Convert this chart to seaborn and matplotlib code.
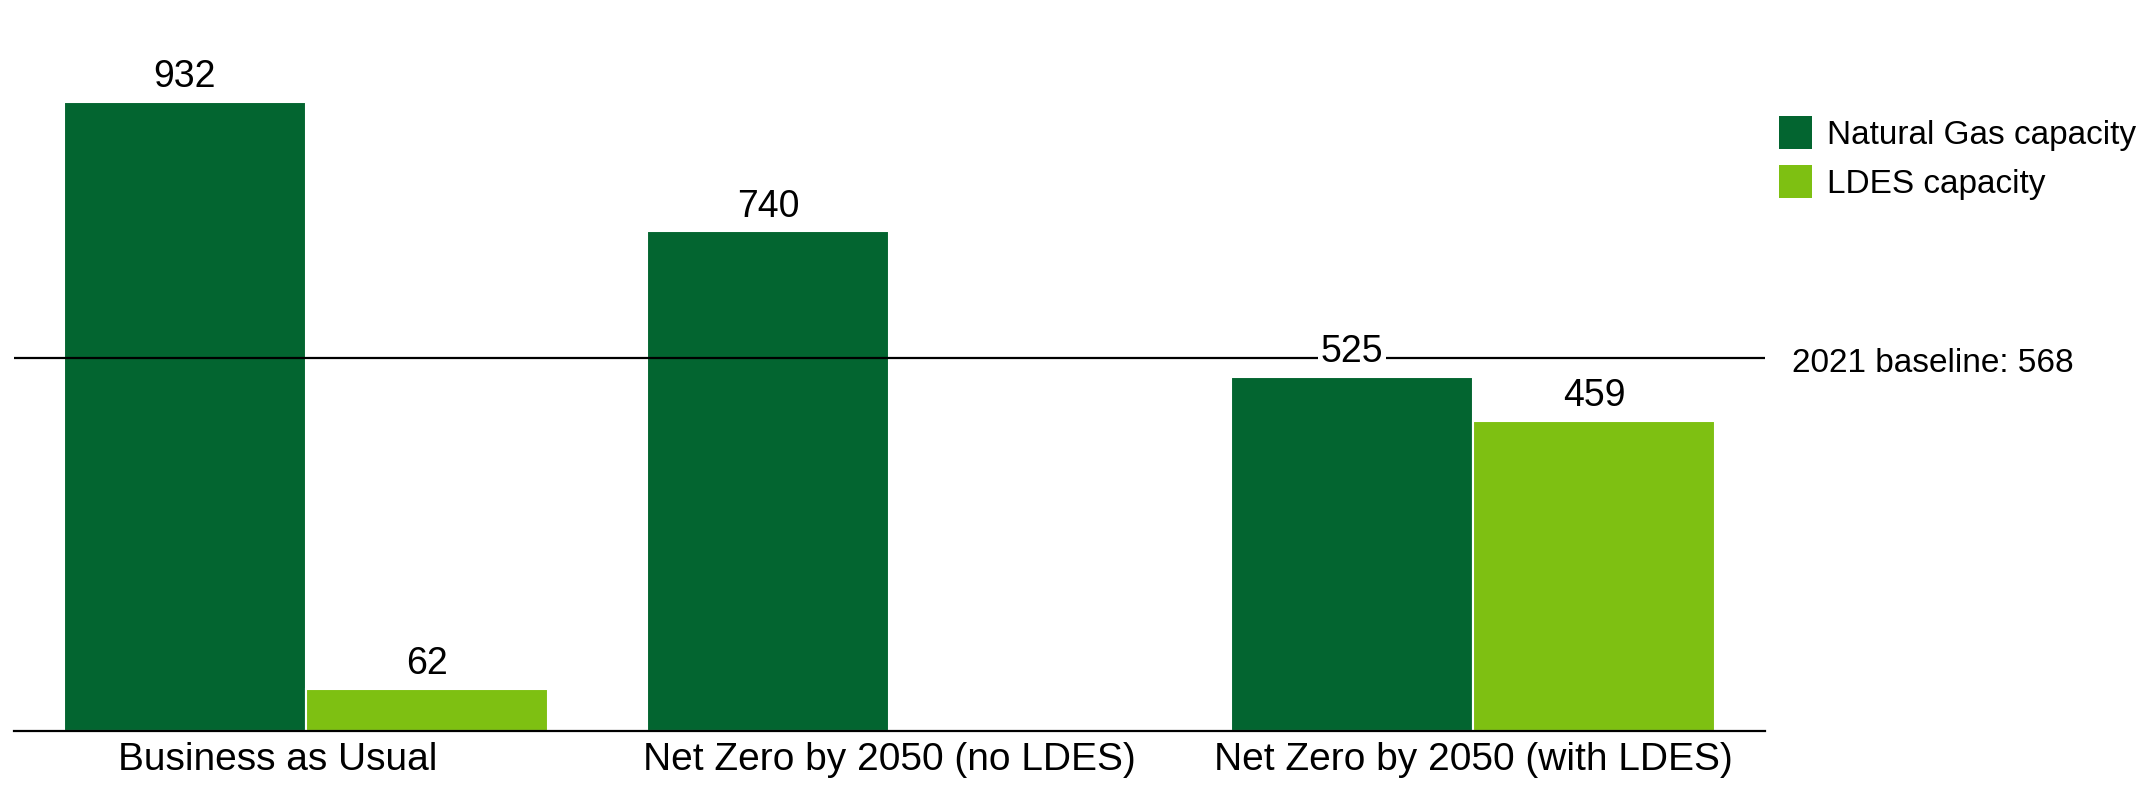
import matplotlib
matplotlib.use("Agg")
import matplotlib.pyplot as plt
import matplotlib.patches as mpatches
import matplotlib.transforms as mtransforms
import pandas as pd
import seaborn as sns

# chart data
scenarios = ["Business as Usual", "Net Zero by 2050 (no LDES)", "Net Zero by 2050 (with LDES)"]
series = ["Natural Gas capacity", "LDES capacity"]
gas_capacity = [932, 740, 525]
ldes_capacity = [62, None, 459]
baseline_label = "2021 baseline: 568"
# the reference line sits a little under 568 on the value scale
baseline_line_level = 552

COLORS = {"Natural Gas capacity": "#036530", "LDES capacity": "#7EC012"}

sns.set_style("white")
plt.rcParams["font.family"] = ["Liberation Sans", "DejaVu Sans"]
plt.rcParams["text.color"] = "black"
plt.rcParams["xtick.color"] = "black"

rows = []
for sc, g, l in zip(scenarios, gas_capacity, ldes_capacity):
    rows.append({"scenario": sc, "series": series[0], "value": g})
    if l is not None:
        rows.append({"scenario": sc, "series": series[1], "value": l})
df = pd.DataFrame(rows)

fig = plt.figure(figsize=(21.45, 7.91), dpi=100)
ax = fig.add_axes([14 / 2145, 60 / 791, 1751 / 2145, 675 / 791])

sns.barplot(
    data=df, x="scenario", y="value", hue="series",
    order=scenarios, hue_order=series, palette=COLORS, saturation=1,
    width=0.83, edgecolor="white", linewidth=1.5,
    legend=False, ax=ax, zorder=1,
)

ax.set_xlim(-0.5, 2.5)
ax.set_ylim(0, 1000)

# 2021 baseline
ax.axhline(baseline_line_level, color="black", linewidth=1.6, zorder=2)
ax.text(2.5 + 27 / 584, baseline_line_level - 7, baseline_label, fontsize=24,
        va="center", ha="left", clip_on=False)

# value labels
for cont in ax.containers:
    texts = ax.bar_label(cont, fmt="%.0f", padding=5, fontsize=27)
    for t in texts:
        t.set_zorder(4)
        t.set_bbox(dict(facecolor="white", edgecolor="none", pad=1.5))

ax.set_xlabel("")
ax.set_ylabel("")
ax.set_yticks([])
ax.tick_params(axis="x", length=0, labelsize=28, pad=8)
# first category label sits a bit left of its group in the reference
first = ax.get_xticklabels()[0]
first.set_transform(first.get_transform() + mtransforms.ScaledTranslation(-28 / 100, 0, fig.dpi_scale_trans))

for side in ["top", "left", "right"]:
    ax.spines[side].set_visible(False)
ax.spines["bottom"].set_color("black")
ax.spines["bottom"].set_linewidth(1.6)

handles = [mpatches.Patch(facecolor=COLORS[s], edgecolor="none", label=s) for s in series]
fig.legend(
    handles=handles, loc="upper left", bbox_to_anchor=(1779 / 2145, 1 - 116 / 791),
    frameon=False, fontsize=24, handlelength=1.0, handleheight=1.15,
    handletextpad=0.45, labelspacing=0.42, borderpad=0, borderaxespad=0,
)

fig.savefig("out.png", dpi=100)
